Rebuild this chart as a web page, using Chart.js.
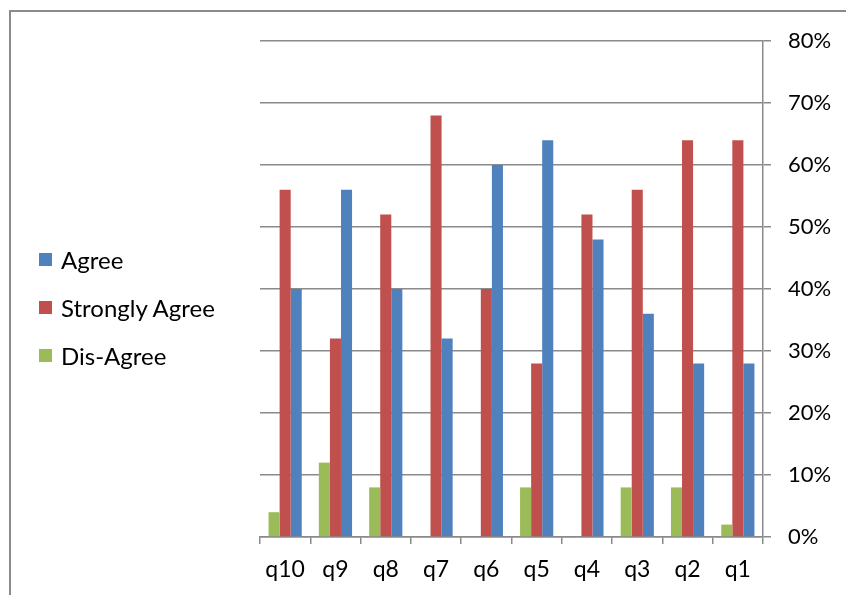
<!DOCTYPE html>
<html>
<head>
<meta charset="utf-8">
<script src="https://cdn.jsdelivr.net/npm/chart.js@4/dist/chart.umd.min.js"></script>
<style>
  html, body { margin: 0; padding: 0; background: #fff; }
  #wrap { position: relative; width: 846px; height: 595px; overflow: hidden; }
  #frame { position: absolute; left: 9px; top: 10px; right: -5px; bottom: -5px;
           border-left: 2px solid #8a8a8a; border-top: 2px solid #8a8a8a; }
  #chart { position: absolute; left: 0; top: 0; }
  #legend { position: absolute; left: 39px; top: 245px; font-family: Lato, sans-serif; font-size: 24px; color: #000; }
  #legend .item { display: flex; align-items: center; height: 28px; margin-bottom: 20px; white-space: nowrap; }
  #legend .box { width: 13px; height: 13px; margin-right: 9px; flex: none; }
</style>
</head>
<body>
<div id="wrap">
  <div id="frame"></div>
  <canvas id="chart" width="846" height="595"></canvas>
  <div id="legend"></div>
</div>
<script>
// Survey questions, left to right
const questions = ["q10", "q9", "q8", "q7", "q6", "q5", "q4", "q3", "q2", "q1"];

// Share of responses per question, in percent
const agree         = [40, 56, 40, 32, 60, 64, 48, 36, 28, 28];
const stronglyAgree = [56, 32, 52, 68, 40, 28, 52, 56, 64, 64];
const disAgree      = [4, 12, 8, 0, 0, 8, 0, 8, 8, 2];

// Percent axis ticks
const yTicks = [0, 10, 20, 30, 40, 50, 60, 70, 80];

const gridColor = "#8a8a8a";

const chart = new Chart(document.getElementById("chart"), {
  type: "bar",
  data: {
    labels: questions,
    datasets: [
      { label: "Dis-Agree", data: disAgree, backgroundColor: "#9BBB59", legendOrder: 2 },
      { label: "Strongly Agree", data: stronglyAgree, backgroundColor: "#C0504D", legendOrder: 1 },
      { label: "Agree", data: agree, backgroundColor: "#4F81BD", legendOrder: 0 }
    ]
  },
  options: {
    responsive: false,
    animation: false,
    layout: { padding: { left: 260, top: 41, right: 0, bottom: 0 } },
    datasets: { bar: { barPercentage: 1, categoryPercentage: 0.66 } },
    plugins: {
      legend: { display: false },
      tooltip: { enabled: false }
    },
    scales: {
      x: {
        offset: true,
        grid: { display: true, drawOnChartArea: false, offset: true, color: gridColor, lineWidth: 1.5, tickLength: 7 },
        border: { color: gridColor, width: 1.5 },
        ticks: { color: "#000", font: { family: "Lato", size: 23 }, padding: 12, maxRotation: 0 },
        afterFit: (s) => { s.height = 58; }
      },
      y: {
        position: "right",
        min: 0,
        max: 80,
        afterBuildTicks: (s) => { s.ticks = yTicks.map(v => ({ value: v })); },
        grid: { color: gridColor, lineWidth: 1.5, tickLength: 8 },
        border: { color: gridColor, width: 1.5 },
        ticks: { color: "#000", font: { family: "Lato", size: 22 }, padding: 17, callback: (v) => v + "%" },
        afterFit: (s) => { s.width = 83; }
      }
    }
  }
});

// Legend built from the chart's datasets
const legendEl = document.getElementById("legend");
chart.data.datasets
  .slice()
  .sort((a, b) => a.legendOrder - b.legendOrder)
  .forEach(ds => {
    const item = document.createElement("div");
    item.className = "item";
    const box = document.createElement("span");
    box.className = "box";
    box.style.background = ds.backgroundColor;
    const text = document.createElement("span");
    text.textContent = ds.label;
    item.appendChild(box);
    item.appendChild(text);
    legendEl.appendChild(item);
  });
</script>
</body>
</html>
